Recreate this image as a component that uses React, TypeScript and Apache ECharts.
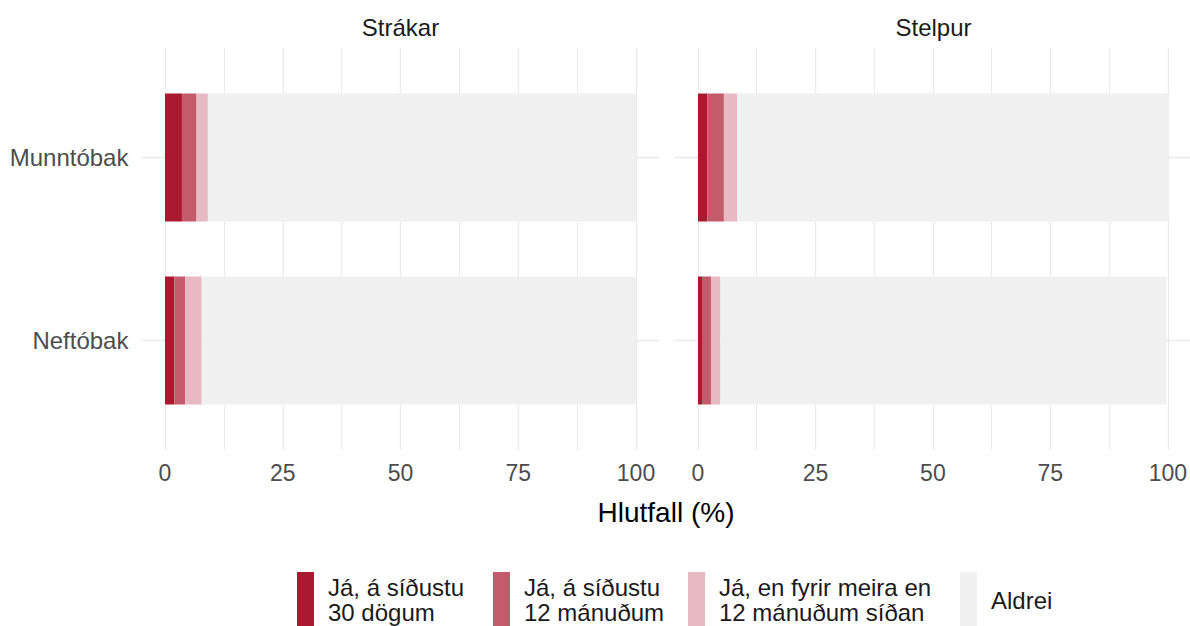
import React, { useEffect, useRef } from "react";
import * as echarts from "echarts";

const categories = ["Munntóbak", "Neftóbak"];
const panels = ["Strákar", "Stelpur"];
const seriesNames = [
  "Já, á síðustu 30 dögum",
  "Já, á síðustu 12 mánuðum",
  "Já, en fyrir meira en 12 mánuðum síðan",
  "Aldrei",
];
const legendLabels = [
  "Já, á síðustu\n30 dögum",
  "Já, á síðustu\n12 mánuðum",
  "Já, en fyrir meira en\n12 mánuðum síðan",
  "Aldrei",
];
// values per panel (Strákar, Stelpur), per category (Munntóbak, Neftóbak)
const strakar30d = [3.6, 2.0];
const strakar12m = [3.1, 2.3];
const strakarEarlier = [2.4, 3.5];
const strakarNever = [90.9, 92.2];
const stelpur30d = [2.0, 0.85];
const stelpur12m = [3.5, 1.9];
const stelpurEarlier = [2.8, 2.0];
const stelpurNever = [91.7, 94.7];
const xTickInterval = 25;
const xAxisTitle = "Hlutfall (%)";

const colors = ["#A91A31", "#C45B6B", "#E8B9C2", "#F0F0F0"];
const FONT = "Liberation Sans, Arial, sans-serif";
const GRID_COLOR = "#EBEBEB";

export default function App() {
  const ref = useRef<HTMLDivElement>(null);
  useEffect(() => {
    if (!ref.current) return;
    const chart = echarts.init(ref.current, undefined, { renderer: "svg" });
    const panelData = [
      [strakar30d, strakar12m, strakarEarlier, strakarNever],
      [stelpur30d, stelpur12m, stelpurEarlier, stelpurNever],
    ];
    const layout = [
      { zero: 165, width: 471 },
      { zero: 698, width: 471 },
    ];
    const expand = 471 * 0.05;
    const grids: any[] = [];
    const xAxes: any[] = [];
    const yAxes: any[] = [];
    const series: any[] = [];
    const graphics: any[] = [];
    layout.forEach((l, p) => {
      const a = p * 3;
      // A: vertical gridlines + x tick labels
      grids.push({ left: l.zero, width: l.width, top: 48, height: 402 });
      // B: horizontal category gridlines + y labels
      grids.push({ left: l.zero - expand, width: l.width + 2 * expand, top: 157.5, height: 183 });
      // C: bars
      grids.push({ left: l.zero, width: l.width, top: 66, height: 366 });
      xAxes.push({
        gridIndex: a,
        type: "value",
        min: 0,
        max: 100,
        interval: xTickInterval,
        axisLine: { show: false },
        axisTick: { show: false },
        axisLabel: { fontSize: 23, color: "#4D4D4D", margin: 11, fontFamily: FONT },
        splitLine: { show: true, lineStyle: { color: GRID_COLOR, width: 1.3 } },
        minorTick: { show: false, splitNumber: 2 },
        minorSplitLine: { show: true, lineStyle: { color: GRID_COLOR, width: 1 } },
      });
      xAxes.push({ gridIndex: a + 1, type: "value", show: false, min: 0, max: 1 });
      xAxes.push({ gridIndex: a + 2, type: "value", show: false, min: 0, max: 100 });
      yAxes.push({ gridIndex: a, type: "value", show: false, min: 0, max: 1 });
      yAxes.push({
        gridIndex: a + 1,
        type: "category",
        data: categories,
        inverse: true,
        boundaryGap: false,
        axisLine: { show: false },
        axisTick: { show: false },
        axisLabel: { show: p === 0, fontSize: 24, color: "#4D4D4D", margin: 13, fontFamily: FONT },
        splitLine: { show: true, lineStyle: { color: GRID_COLOR, width: 1.3 } },
      });
      yAxes.push({ gridIndex: a + 2, type: "category", data: categories, inverse: true, show: false });
      panelData[p].forEach((vals, s) => {
        series.push({
          type: "bar",
          name: seriesNames[s],
          xAxisIndex: a + 2,
          yAxisIndex: a + 2,
          stack: "panel" + p,
          data: vals,
          barWidth: "70%",
          itemStyle: { color: colors[s] },
          silent: true,
        });
      });
      graphics.push({
        type: "text",
        x: l.zero - expand + (l.width + 2 * expand) / 2,
        y: 27,
        style: {
          text: panels[p],
          fontSize: 24,
          fontFamily: FONT,
          fill: "#1A1A1A",
          textAlign: "center",
          textVerticalAlign: "middle",
        },
      });
    });
    graphics.push({
      type: "text",
      x: 666,
      y: 512,
      style: {
        text: xAxisTitle,
        fontSize: 28,
        fontFamily: FONT,
        fill: "#000000",
        textAlign: "center",
        textVerticalAlign: "middle",
      },
    });
    const legendLefts = [297, 493, 688, 960];
    const legends = seriesNames.map((n, i) => ({
      data: [n],
      left: legendLefts[i],
      top: 572,
      padding: 0,
      orient: "horizontal",
      icon: "rect",
      itemWidth: 17,
      itemHeight: 56,
      selectedMode: false,
      formatter: () => legendLabels[i],
      textStyle: {
        fontSize: 24,
        lineHeight: 25,
        color: "#1A1A1A",
        fontFamily: FONT,
        padding: [0, 0, 0, 9],
      },
    }));
    chart.setOption({
      animation: false,
      backgroundColor: "#FFFFFF",
      grid: grids,
      xAxis: xAxes,
      yAxis: yAxes,
      series,
      legend: legends,
      graphic: graphics,
    });
    return () => chart.dispose();
  }, []);
  return (
    <div
      ref={ref}
      style={{ position: "absolute", left: 0, top: 0, width: 1190, height: 626 }}
    />
  );
}
